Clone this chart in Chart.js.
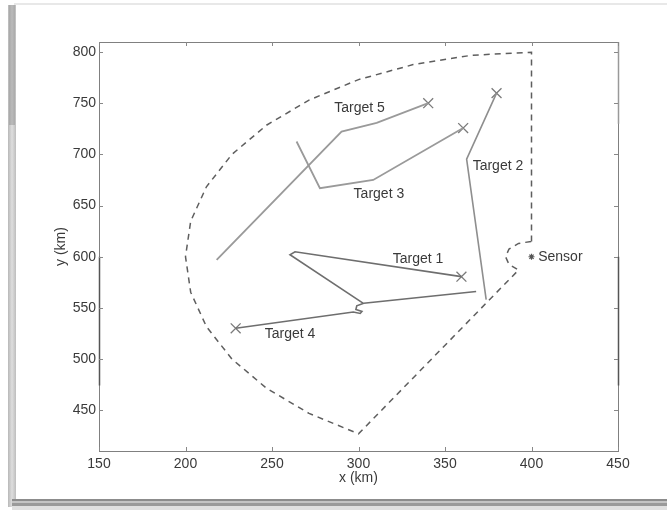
<!DOCTYPE html>
<html>
<head>
<meta charset="utf-8">
<script src="https://cdn.jsdelivr.net/npm/chart.js@4.4.1/dist/chart.umd.min.js"></script>
<style>
  html, body { margin: 0; padding: 0; background: #fff; }
  #wrap { width: 667px; height: 510px; position: relative; }
</style>
</head>
<body>
<div id="wrap"><canvas id="chart" width="667" height="510"></canvas></div>
<script>
// Axis ticks
const xTicks = [150, 200, 250, 300, 350, 400, 450];
const yTicks = [450, 500, 550, 600, 650, 700, 750, 800];

// Sensor coverage boundary (dashed)
const boundaryX = [400, 400, 365.3, 331.6, 300, 271.4, 246.8, 226.8, 212.1, 203.0, 200,
                   203.0, 212.1, 226.8, 246.8, 271.4, 300, 392.5, 387.0, 385, 387.0, 392.5, 400];
const boundaryY = [615, 800, 797.0, 787.9, 773.2, 753.2, 728.6, 700, 668.4, 634.7, 600,
                   565.3, 531.6, 500, 471.4, 446.8, 426.8, 587.0, 592.5, 600, 607.5, 613.0, 615];

// Target tracks
const target1X = [359.5, 263.3, 260.4, 302.6];
const target1Y = [580.5, 604.9, 601.9, 554.7];
const target2X = [379.8, 362.5, 373.8];
const target2Y = [760, 695.5, 558];
const target3X = [264.2, 277.7, 308.5, 360.5];
const target3Y = [712.7, 667, 675.1, 725.8];
const target4X = [229, 297, 301, 302, 298.5, 299, 303, 368];
const target4Y = [530, 546, 544.5, 546.5, 548.5, 552, 554.5, 566];
const target5X = [218, 290.2, 310.5, 340.3];
const target5Y = [596.8, 722.4, 731, 750.2];

// End-point markers (x)
const markerX = [359.5, 379.8, 360.5, 229, 340.3];
const markerY = [580.5, 760, 725.8, 530, 750.2];

// Sensor position
const sensorX = [400];
const sensorY = [600];

// Text annotations
const labelText = ['Target 1', 'Target 2', 'Target 3', 'Target 4', 'Target 5', 'Sensor'];
const labelX = [334.4, 380.6, 311.8, 260.4, 300.6, 416.7];
const labelY = [597.5, 688.2, 661.3, 524.3, 745, 599.5];

const FONT = '"Liberation Sans", Arial, Helvetica, sans-serif';
const TEXT = '#3a3a3a';

function toPoints(xs, ys) {
    return xs.map((x, i) => ({ x: x, y: ys[i] }));
}

function track(xs, ys, color, width) {
    return {
        data: toPoints(xs, ys),
        showLine: true,
        borderColor: color,
        borderWidth: width,
        pointRadius: 0,
        tension: 0
    };
}

// Scanned-page frame around the figure
const framePlugin = {
    id: 'frame',
    beforeDraw(chart) {
        const ctx = chart.ctx;
        ctx.save();
        ctx.fillStyle = '#fff';
        ctx.fillRect(0, 0, chart.width, chart.height);
        // top edge
        ctx.fillStyle = '#e8e8e8';
        ctx.fillRect(14, 3, chart.width - 14, 2);
        // left bar
        const g = ctx.createLinearGradient(8, 0, 16, 0);
        g.addColorStop(0, '#b8b8b8');
        g.addColorStop(0.5, '#dedede');
        g.addColorStop(1, '#bdbdbd');
        ctx.fillStyle = g;
        ctx.fillRect(8, 5, 8, 502);
        ctx.fillStyle = 'rgba(120,120,120,0.35)';
        ctx.fillRect(9, 5, 6, 120);
        // bottom edge
        ctx.fillStyle = '#8c8c8c';
        ctx.fillRect(12, 499, chart.width - 12, 2);
        ctx.fillStyle = '#c4c4c4';
        ctx.fillRect(12, 501, chart.width - 12, 2);
        ctx.fillStyle = '#9a9a9a';
        ctx.fillRect(12, 503, chart.width - 12, 3);
        ctx.fillStyle = '#e0e0e0';
        ctx.fillRect(12, 506, chart.width - 12, 4);
        ctx.restore();
    }
};

// Axes box, inward ticks and text labels
const boxPlugin = {
    id: 'box',
    afterDraw(chart) {
        const ctx = chart.ctx;
        const a = chart.chartArea;
        const xs = chart.scales.x;
        const ys = chart.scales.y;
        ctx.save();
        ctx.strokeStyle = '#808080';
        ctx.lineWidth = 1;
        ctx.strokeRect(Math.round(a.left) + 0.5, Math.round(a.top) + 0.5,
            Math.round(a.right - a.left), Math.round(a.bottom - a.top));
        // darker scan streaks on the side axes
        ctx.strokeStyle = '#555';
        ctx.lineWidth = 1.5;
        ctx.beginPath();
        ctx.moveTo(a.left + 0.5, ys.getPixelForValue(600));
        ctx.lineTo(a.left + 0.5, ys.getPixelForValue(474));
        ctx.moveTo(a.right + 0.5, ys.getPixelForValue(600));
        ctx.lineTo(a.right + 0.5, ys.getPixelForValue(474));
        ctx.stroke();
        ctx.strokeStyle = '#999';
        ctx.beginPath();
        ctx.moveTo(a.right + 0.5, a.top);
        ctx.lineTo(a.right + 0.5, ys.getPixelForValue(730));
        ctx.stroke();

        ctx.strokeStyle = '#888';
        ctx.lineWidth = 1;
        ctx.beginPath();
        xTicks.forEach(v => {
            const px = Math.round(xs.getPixelForValue(v)) + 0.5;
            ctx.moveTo(px, a.bottom); ctx.lineTo(px, a.bottom - 4);
            ctx.moveTo(px, a.top); ctx.lineTo(px, a.top + 4);
        });
        yTicks.forEach(v => {
            const py = Math.round(ys.getPixelForValue(v)) + 0.5;
            ctx.moveTo(a.left, py); ctx.lineTo(a.left + 4, py);
            ctx.moveTo(a.right, py); ctx.lineTo(a.right - 4, py);
        });
        ctx.stroke();

        ctx.fillStyle = TEXT;
        ctx.font = '14px ' + FONT;
        ctx.textAlign = 'center';
        ctx.textBaseline = 'middle';
        labelText.forEach((t, i) => {
            ctx.fillText(t, xs.getPixelForValue(labelX[i]), ys.getPixelForValue(labelY[i]));
        });
        ctx.restore();
    }
};

const tickFont = { family: FONT, size: 14 };

new Chart(document.getElementById('chart'), {
    type: 'scatter',
    data: {
        datasets: [
            {
                data: toPoints(boundaryX, boundaryY),
                showLine: true,
                borderColor: '#5e5e5e',
                borderWidth: 1.5,
                borderDash: [6, 5],
                pointRadius: 0,
                tension: 0
            },
            track(target5X, target5Y, '#9a9a9a', 1.8),
            track(target3X, target3Y, '#9a9a9a', 1.8),
            track(target2X, target2Y, '#8e8e8e', 1.6),
            track(target1X, target1Y, '#6e6e6e', 1.6),
            track(target4X, target4Y, '#6e6e6e', 1.6),
            {
                data: toPoints(markerX, markerY),
                showLine: false,
                pointStyle: 'crossRot',
                pointRadius: 7,
                borderColor: '#7a7a7a',
                borderWidth: 1.3
            },
            {
                data: toPoints(sensorX, sensorY),
                showLine: false,
                pointStyle: 'star',
                pointRadius: 3,
                borderColor: '#555',
                borderWidth: 1.2
            }
        ]
    },
    options: {
        responsive: false,
        animation: false,
        events: [],
        layout: { padding: { left: 0, right: 49, top: 42, bottom: 0 } },
        plugins: {
            legend: { display: false },
            tooltip: { enabled: false }
        },
        scales: {
            x: {
                type: 'linear',
                min: 150,
                max: 450,
                afterBuildTicks: s => { s.ticks = xTicks.map(v => ({ value: v })); },
                afterFit: s => { s.height = 59; },
                grid: { display: false, drawTicks: false },
                border: { display: false },
                ticks: { padding: 5, color: TEXT, font: tickFont, autoSkip: false, maxRotation: 0 },
                title: { display: true, text: 'x (km)', color: TEXT, font: tickFont, padding: { top: 0, bottom: 23 } }
            },
            y: {
                type: 'linear',
                min: 410,
                max: 810,
                afterBuildTicks: s => { s.ticks = yTicks.map(v => ({ value: v })); },
                afterFit: s => { s.width = 99; },
                grid: { display: false, drawTicks: false },
                border: { display: false },
                ticks: { padding: 3, color: TEXT, font: tickFont, autoSkip: false },
                title: { display: true, text: 'y (km)', color: TEXT, font: tickFont, padding: { top: 53, bottom: 0 } }
            }
        }
    },
    plugins: [framePlugin, boxPlugin]
});
</script>
</body>
</html>
